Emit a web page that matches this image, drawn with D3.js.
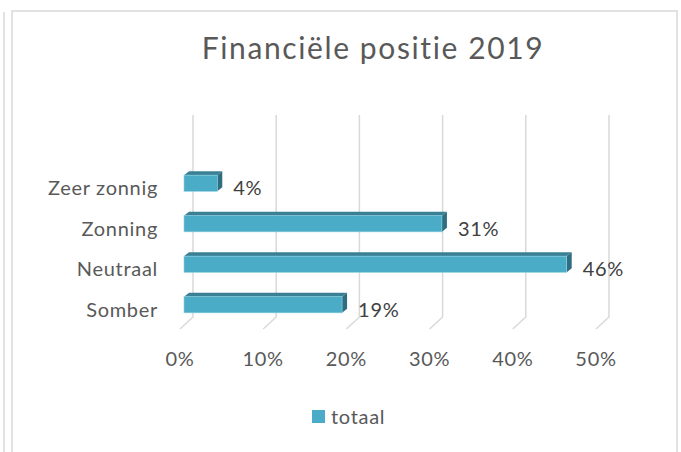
<!DOCTYPE html>
<html>
<head>
<meta charset="utf-8">
<script src="https://cdn.jsdelivr.net/npm/d3@7"></script>
<style>
  body { margin: 0; background: #fff; }
  svg { display: block; font-family: Lato, "Open Sans", sans-serif; }
</style>
</head>
<body>
<div id="wrapper"></div>
<script>
const categories = ["Zeer zonnig", "Zonning", "Neutraal", "Somber"];
const values = [0.04, 0.31, 0.46, 0.19];
const valueLabels = ["4%", "31%", "46%", "19%"];
const ticks = [0, 0.1, 0.2, 0.3, 0.4, 0.5];
const seriesName = "totaal";
const title = "Financiële positie 2019";

function drawChart() {
  const width = 681;
  const height = 452;
  const fontSize = 20;
  const spacing = "0.7px";

  const svg = d3.select("#wrapper").append("svg")
    .attr("width", width)
    .attr("height", height);

  // frames
  svg.append("line")
    .attr("x1", 4).attr("x2", 4).attr("y1", 12).attr("y2", height)
    .attr("stroke", "#d9d9d9").attr("stroke-width", 1.5);
  svg.append("rect")
    .attr("x", 12).attr("y", 11).attr("width", 665).attr("height", 460)
    .attr("fill", "#fff").attr("stroke", "#d9d9d9").attr("stroke-width", 1.5);

  // title
  svg.append("text")
    .attr("x", 373).attr("y", 59)
    .attr("text-anchor", "middle")
    .attr("font-size", 30)
    .attr("letter-spacing", "1.6px")
    .attr("fill", "#595959")
    .text(title);

  const depth = { dx: 13, dy: -12 };
  const floorY = 329;
  const topY = 115;

  const xScale = d3.scaleLinear()
    .domain([0, 0.5])
    .range([180, 596]);

  const yScale = d3.scaleBand()
    .domain(categories)
    .range([163, 325])
    .paddingInner(0.6)
    .paddingOuter(0.3);

  // gridlines (back wall + floor)
  const grid = svg.append("g");
  ticks.forEach(t => {
    const xf = xScale(t);
    const xb = xf + depth.dx;
    grid.append("path")
      .attr("d", `M${xb},${topY}L${xb},${floorY + depth.dy}L${xf},${floorY}`)
      .attr("fill", "none")
      .attr("stroke", "#d9d9d9")
      .attr("stroke-width", 1.5);
  });

  // x tick labels
  svg.append("g").selectAll("text")
    .data(ticks)
    .join("text")
    .attr("x", d => xScale(d))
    .attr("y", 366)
    .attr("text-anchor", "middle")
    .attr("font-size", fontSize)
    .attr("letter-spacing", spacing)
    .attr("fill", "#595959")
    .text(d3.format(".0%"));

  // category labels
  svg.append("g").selectAll("text")
    .data(categories)
    .join("text")
    .attr("x", 158)
    .attr("y", d => yScale(d) + yScale.bandwidth() / 2 + 12)
    .attr("text-anchor", "end")
    .attr("font-size", fontSize)
    .attr("letter-spacing", spacing)
    .attr("fill", "#595959")
    .text(d => d);

  // 3d bars
  const barOff = 4;
  const side = { dx: 5, dy: -4 };
  const bars = svg.append("g").selectAll("g")
    .data(categories.map((c, i) => ({ c, v: values[i], label: valueLabels[i] })))
    .join("g");

  bars.append("path")
    .attr("d", d => {
      const x0 = xScale(0) + barOff, x1 = xScale(d.v) + barOff, y0 = yScale(d.c);
      return `M${x0},${y0}L${x0 + side.dx},${y0 + side.dy}L${x1 + side.dx},${y0 + side.dy}L${x1},${y0}Z`;
    })
    .attr("fill", "#3a8094");

  bars.append("path")
    .attr("d", d => {
      const x1 = xScale(d.v) + barOff, y0 = yScale(d.c), y1 = y0 + yScale.bandwidth();
      return `M${x1},${y0}L${x1 + side.dx},${y0 + side.dy}L${x1 + side.dx},${y1 + side.dy}L${x1},${y1}Z`;
    })
    .attr("fill", "#2f6e80");

  bars.append("rect")
    .attr("x", xScale(0) + barOff)
    .attr("y", d => yScale(d.c))
    .attr("width", d => xScale(d.v) - xScale(0))
    .attr("height", yScale.bandwidth())
    .attr("fill", "#4aacc6")
    .attr("stroke", "#8fd0e0")
    .attr("stroke-width", 0.6);

  bars.append("text")
    .attr("x", d => xScale(d.v) + barOff + 16)
    .attr("y", d => yScale(d.c) + yScale.bandwidth() / 2 + 12)
    .attr("font-size", fontSize)
    .attr("letter-spacing", spacing)
    .attr("fill", "#404040")
    .text(d => d.label);

  // legend
  const legend = svg.append("g");
  legend.append("rect")
    .attr("x", 312).attr("y", 410).attr("width", 13).attr("height", 13)
    .attr("fill", "#4aacc6");
  legend.append("text")
    .attr("x", 331).attr("y", 424)
    .attr("font-size", fontSize)
    .attr("letter-spacing", spacing)
    .attr("fill", "#595959")
    .text(seriesName);
}

drawChart();
</script>
</body>
</html>
